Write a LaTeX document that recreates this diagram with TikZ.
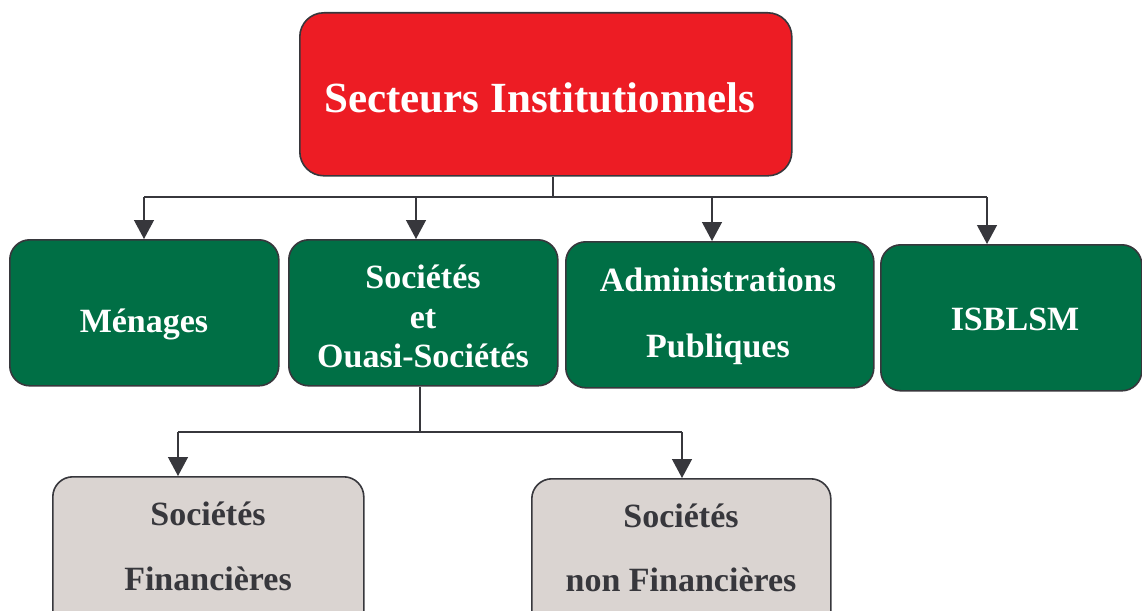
\documentclass[tikz,border=0pt]{standalone}
\usepackage{fontspec}
\setmainfont{Liberation Serif}
\usetikzlibrary{arrows.meta}
\definecolor{topred}{RGB}{237,28,36}
\definecolor{boxgreen}{RGB}{0,111,69}
\definecolor{boxgray}{RGB}{218,212,209}
\definecolor{edgegray}{RGB}{55,55,60}
\tikzset{
  basebox/.style={draw=edgegray, line width=1.6pt, inner sep=0pt, anchor=north west},
  redbox/.style={basebox, fill=topred, rounded corners=24pt},
  greenbox/.style={basebox, fill=boxgreen, rounded corners=20pt},
  graybox/.style={basebox, fill=boxgray, rounded corners=20pt},
  toptxt/.style={anchor=base, inner sep=0pt, text=white, font=\bfseries\fontsize{43}{48}\selectfont},
  greentxt/.style={anchor=base, inner sep=0pt, text=white, font=\bfseries\fontsize{34}{40}\selectfont},
  graytxt/.style={anchor=base, inner sep=0pt, text=edgegray, font=\bfseries\fontsize{34}{40}\selectfont},
  conn/.style={draw=edgegray, line width=1.3pt},
  arr/.style={conn, -{Triangle[width=20pt,length=19pt]}},
}
\begin{document}
\begin{tikzpicture}[x=1pt,y=-1pt]
\useasboundingbox (0,0) rectangle (1142,610);
% boxes
\node[redbox, minimum width=492pt, minimum height=163pt] (top) at (299,12) {};
\node[greenbox, minimum width=269pt, minimum height=146pt] (men) at (9,239) {};
\node[greenbox, minimum width=269pt, minimum height=146pt] (soc) at (288,239) {};
\node[greenbox, minimum width=308pt, minimum height=146pt] (adm) at (565,241) {};
\node[greenbox, minimum width=261pt, minimum height=146pt] (isb) at (880,244) {};
\node[graybox, minimum width=311pt, minimum height=160pt] (sf) at (52,476) {};
\node[graybox, minimum width=299pt, minimum height=160pt] (snf) at (531,478) {};
% texts
\node[toptxt] (topt) at (540,112) {Secteurs Institutionnels};
\node[greentxt] (ment) at (144,332) {Ménages};
\node[greentxt] (soct1) at (423,288) {Sociétés};
\node[greentxt] (soct2) at (423,328) {et};
\node[greentxt] (soct3) at (423,367) {Ouasi-Sociétés};
\node[greentxt] (admt1) at (718,291) {Administrations};
\node[greentxt] (admt2) at (718,357) {Publiques};
\node[greentxt] (isbt) at (1015,330) {ISBLSM};
\node[graytxt] (sft1) at (208,525) {Sociétés};
\node[graytxt] (sft2) at (208,590) {Financières};
\node[graytxt] (snft1) at (681,527) {Sociétés};
\node[graytxt] (snft2) at (681,591) {non Financières};
% connectors top
\coordinate (j1) at (553,197);
\draw[conn] (top.south -| j1) -- (j1);
\draw[conn] (144,197) -- (987,197);
\draw[arr] (144,197) -- (men.north -| 144,0);
\draw[arr] (416,197) -- (soc.north -| 416,0);
\draw[arr] (712,197) -- (adm.north -| 712,0);
\draw[arr] (987,197) -- (isb.north -| 987,0);
% connectors bottom
\coordinate (j2) at (420,432);
\draw[conn] (soc.south -| j2) -- (j2);
\draw[conn] (178,432) -- (682,432);
\draw[arr] (178,432) -- (sf.north -| 178,0);
\draw[arr] (682,432) -- (snf.north -| 682,0);
\end{tikzpicture}
\end{document}
